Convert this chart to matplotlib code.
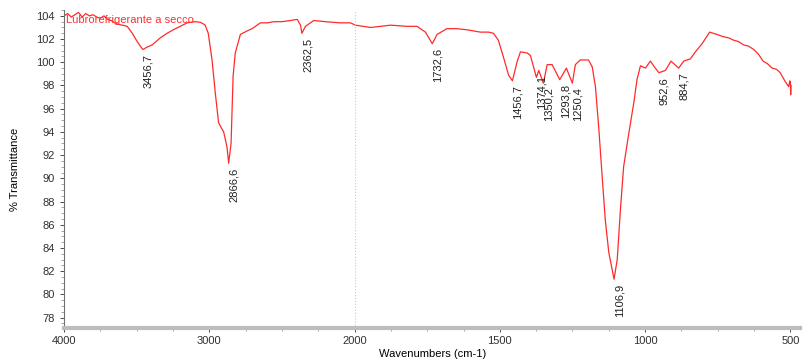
import matplotlib
matplotlib.use("Agg")
import matplotlib.pyplot as plt
import numpy as np
from matplotlib.ticker import FixedLocator, MultipleLocator

plt.rcParams["font.family"] = ["Liberation Sans", "DejaVu Sans"]

# spectrum: wavenumber (cm-1) and % transmittance
wavenumber = [
    4000, 3975, 3950, 3925, 3900, 3875, 3850, 3825, 3800, 3775, 3750, 3725,
    3700, 3675, 3650, 3634, 3600, 3565, 3530, 3497, 3475, 3456.7, 3430, 3393,
    3365, 3338, 3290, 3248, 3200, 3152, 3100, 3062, 3040, 3028, 3007, 2981,
    2959, 2936, 2915, 2901, 2878, 2866.6, 2850, 2836, 2821, 2786, 2740, 2705,
    2648, 2600, 2556, 2500, 2441, 2395, 2372, 2362.5, 2338, 2281, 2200, 2100,
    2028, 1997, 1945, 1876, 1820, 1785, 1756, 1732.6, 1716, 1682, 1650, 1612,
    1567, 1539, 1522, 1505, 1487, 1470, 1456.7, 1440, 1429, 1406, 1395, 1374.1,
    1366, 1350.2, 1337, 1320, 1293.8, 1271, 1250.4, 1240, 1223, 1195, 1182,
    1171, 1160, 1148, 1137, 1125, 1106.9, 1096, 1085, 1074, 1056, 1039, 1028,
    1016, 999, 982, 968, 952.6, 930, 911, 884.7, 867, 844, 827, 804, 778, 765,
    753, 730, 712, 695, 680, 661, 645, 626, 610, 594, 580, 563, 548, 535, 517,
    506, 502, 500, 499, 498,
]
transmittance = [
    104.0, 104.2, 103.9, 104.1, 104.3, 103.9, 104.2, 104.0, 104.1, 103.9, 103.8, 104.0,
    103.7, 103.6, 103.4, 103.3, 103.2, 103.1, 102.5, 101.8, 101.4, 101.1, 101.3, 101.5,
    101.8, 102.1, 102.5, 102.8, 103.1, 103.4, 103.5, 103.45, 103.3, 103.2, 102.5, 100.2,
    97.4, 94.8, 94.3, 94.0, 92.7, 91.3, 93.0, 98.8, 100.8, 102.4, 102.7, 102.9,
    103.4, 103.4, 103.5, 103.5, 103.6, 103.7, 103.2, 102.5, 103.1, 103.6, 103.5, 103.4,
    103.4, 103.2, 103.0, 103.2, 103.1, 103.1, 102.6, 101.6, 102.4, 102.9, 102.9, 102.8,
    102.6, 102.6, 102.5, 101.9, 100.4, 98.9, 98.4, 100.1, 100.9, 100.8, 100.6, 98.7,
    99.3, 98.2, 99.8, 99.8, 98.5, 99.5, 98.2, 99.8, 100.2, 100.2, 99.6,
    97.9, 94.5, 90.2, 86.4, 83.6, 81.3, 83.0, 87.3, 91.0, 93.9, 96.5, 98.5,
    99.7, 99.5, 100.1, 99.6, 99.1, 99.3, 100.1, 99.5, 100.1, 100.3, 100.9, 101.6, 102.6, 102.5,
    102.4, 102.2, 102.1, 101.9, 101.8, 101.5, 101.4, 101.1, 100.7, 100.1, 99.9, 99.5, 99.4, 99.1, 98.3,
    97.9, 98.4, 98.2, 97.2, 98.0,
]

# labelled peaks
peak_wn = [3456.7, 2866.6, 2362.5, 1732.6, 1456.7, 1374.1, 1350.2, 1293.8, 1250.4, 1106.9, 952.6, 884.7]
peak_t = [101.1, 91.3, 102.5, 101.6, 98.4, 99.3, 98.2, 98.5, 98.2, 81.3, 99.1, 99.5]
peak_text = ["3456,7", "2866,6", "2362,5", "1732,6", "1456,7", "1374,1", "1350,2",
             "1293,8", "1250,4", "1106,9", "952,6", "884,7"]

x_major = [4000, 3000, 2000, 1500, 1000, 500]
x_minor = [3750, 3500, 3250, 2750, 2500, 2250, 1875, 1750, 1625, 1375, 1250, 1125, 875, 750, 625]


def forward(x):
    x = np.asarray(x, dtype=float)
    return np.where(x >= 2000, x, 2 * x - 2000)


def inverse(y):
    y = np.asarray(y, dtype=float)
    return np.where(y >= 2000, y, (y + 2000) / 2)


fig = plt.figure(figsize=(8.1, 3.6), dpi=100)
ax = fig.add_axes([0.079, 0.089, 0.909, 0.883])
ax.set_xscale("function", functions=(forward, inverse))

ax.plot(wavenumber, transmittance, color="#ff2a2a", linewidth=0.9)
ax.axvline(2000, color="#c8c8c8", linestyle=":", linewidth=0.8)

for wn, t, txt in zip(peak_wn, peak_t, peak_text):
    ax.annotate(txt, (wn, t), xytext=(4, -3), textcoords="offset points",
                rotation=90, ha="center", va="top", fontsize=8, color="#202020")

ax.text(0.003, 0.985, "Lubrorefrigerante a secco", transform=ax.transAxes,
        color="#ff3030", fontsize=8, ha="left", va="top")

ax.set_xlim(4000, 466)
ax.set_ylim(77.1, 104.5)
ax.xaxis.set_major_locator(FixedLocator(x_major))
ax.xaxis.set_minor_locator(FixedLocator(x_minor))
ax.set_xticklabels([str(v) for v in x_major])
ax.yaxis.set_major_locator(MultipleLocator(2))
ax.yaxis.set_minor_locator(MultipleLocator(0.5))

for side in ("top", "right"):
    ax.spines[side].set_visible(False)
ax.spines["left"].set_color("#707070")
ax.spines["bottom"].set_color("#bdbdbd")
ax.spines["bottom"].set_linewidth(3)

ax.tick_params(axis="both", labelsize=8, colors="#303030", length=3, width=0.6)
ax.tick_params(axis="both", which="minor", length=2, width=0.5, colors="#808080")
ax.tick_params(axis="x", pad=3)

ax.set_xlabel("Wavenumbers (cm-1)", fontsize=8, labelpad=2)
ax.set_ylabel("% Transmittance", fontsize=8, labelpad=12)

fig.savefig("out.png", dpi=100)
